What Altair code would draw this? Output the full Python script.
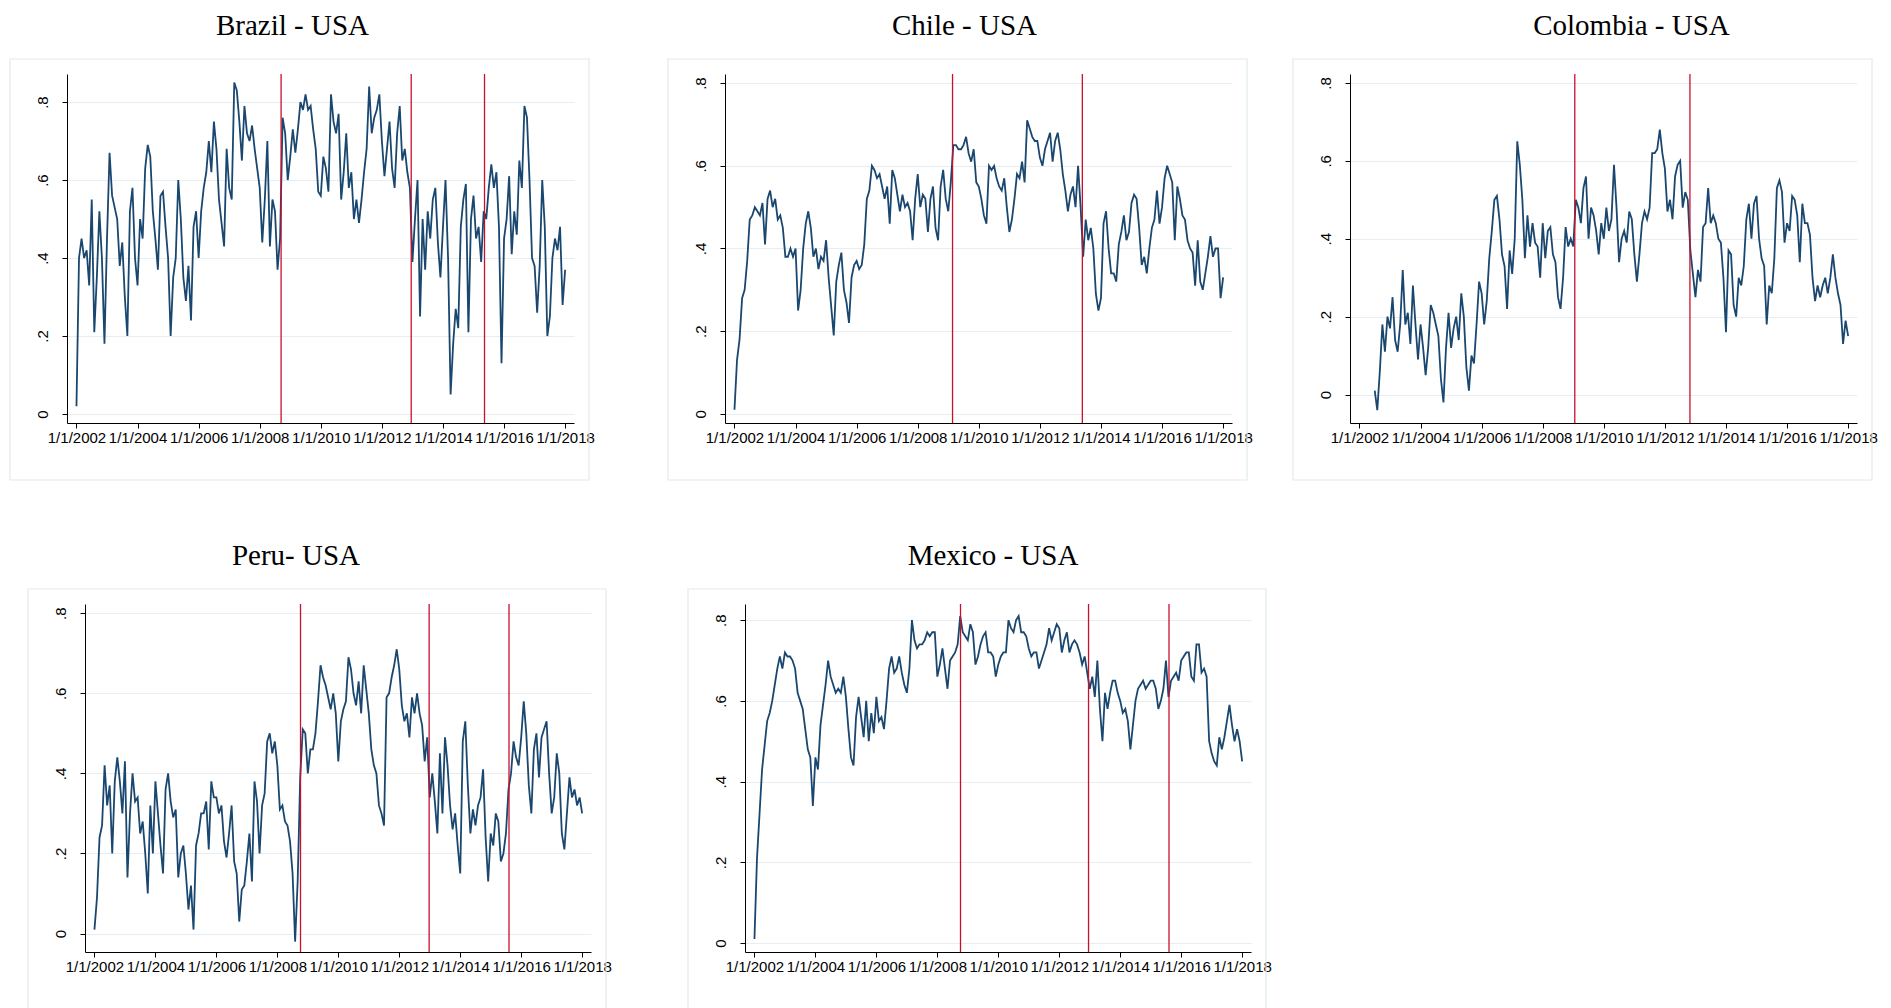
import altair as alt
import pandas as pd

# ---- data: monthly readings (first month given by *_start) ----
brazil_start = (2002, 1)
brazil = [
    0.02, 0.40, 0.45, 0.40, 0.42, 0.33, 0.55, 0.21, 0.35, 0.52, 0.40, 0.18,
    0.45, 0.67, 0.56, 0.53, 0.50, 0.38, 0.44, 0.30, 0.20, 0.52, 0.58, 0.40,
    0.33, 0.50, 0.45, 0.63, 0.69, 0.66, 0.52, 0.45, 0.37, 0.56, 0.57, 0.48,
    0.40, 0.20, 0.35, 0.40, 0.60, 0.50, 0.35, 0.29, 0.38, 0.24, 0.48, 0.52,
    0.40, 0.52, 0.58, 0.62, 0.70, 0.62, 0.75, 0.68, 0.55, 0.49, 0.43, 0.68,
    0.58, 0.55, 0.85, 0.83, 0.75, 0.65, 0.79, 0.72, 0.70, 0.74, 0.68, 0.63,
    0.58, 0.44, 0.55, 0.70, 0.43, 0.55, 0.52, 0.37, 0.45, 0.76, 0.72, 0.60,
    0.66, 0.73, 0.67, 0.73, 0.80, 0.78, 0.82, 0.78, 0.79, 0.73, 0.68, 0.57,
    0.56, 0.66, 0.63, 0.57, 0.82, 0.75, 0.72, 0.77, 0.55, 0.62, 0.72, 0.58,
    0.62, 0.50, 0.55, 0.49, 0.55, 0.62, 0.68, 0.84, 0.72, 0.76, 0.78, 0.82,
    0.70, 0.61, 0.68, 0.75, 0.63, 0.58, 0.72, 0.79, 0.65, 0.68, 0.62, 0.58,
    0.39, 0.50, 0.60, 0.25, 0.50, 0.37, 0.52, 0.45, 0.55, 0.58, 0.44, 0.35,
    0.48, 0.60, 0.40, 0.05, 0.18, 0.27, 0.22, 0.48, 0.55, 0.59, 0.21, 0.50,
    0.56, 0.45, 0.48, 0.39, 0.52, 0.50, 0.58, 0.64, 0.58, 0.62, 0.48, 0.13,
    0.45, 0.50, 0.61, 0.41, 0.52, 0.46, 0.65, 0.58, 0.79, 0.76, 0.60, 0.40,
    0.38, 0.26, 0.38, 0.60, 0.48, 0.20, 0.25, 0.40, 0.45, 0.42, 0.48, 0.28,
    0.37,
]
brazil_breaks = [2008.70, 2012.96, 2015.36]

chile_start = (2002, 1)
chile = [
    0.01, 0.13, 0.18, 0.28, 0.30, 0.37, 0.47, 0.48, 0.50, 0.49, 0.48, 0.51,
    0.41, 0.52, 0.54, 0.50, 0.52, 0.47, 0.48, 0.45, 0.38, 0.38, 0.40, 0.38,
    0.40, 0.25, 0.30, 0.40, 0.46, 0.49, 0.45, 0.38, 0.40, 0.35, 0.38, 0.37,
    0.42, 0.33, 0.26, 0.19, 0.32, 0.36, 0.39, 0.30, 0.27, 0.22, 0.33, 0.36,
    0.37, 0.35, 0.36, 0.41, 0.52, 0.54, 0.60, 0.59, 0.57, 0.58, 0.55, 0.52,
    0.55, 0.46, 0.59, 0.57, 0.53, 0.49, 0.53, 0.50, 0.51, 0.49, 0.42, 0.52,
    0.58, 0.50, 0.53, 0.52, 0.44, 0.52, 0.55, 0.45, 0.42, 0.55, 0.59, 0.52,
    0.49, 0.56, 0.65, 0.65, 0.64, 0.64, 0.65, 0.67, 0.63, 0.61, 0.64, 0.56,
    0.55, 0.52, 0.48, 0.46, 0.60, 0.59, 0.60, 0.57, 0.55, 0.54, 0.57, 0.50,
    0.44, 0.47, 0.52, 0.58, 0.57, 0.61, 0.56, 0.71, 0.69, 0.67, 0.66, 0.66,
    0.62, 0.60, 0.64, 0.66, 0.68, 0.61, 0.66, 0.68, 0.64, 0.58, 0.54, 0.49,
    0.53, 0.55, 0.50, 0.60, 0.50, 0.38, 0.47, 0.42, 0.45, 0.40, 0.29, 0.25,
    0.28, 0.46, 0.49, 0.40, 0.34, 0.34, 0.32, 0.41, 0.44, 0.48, 0.42, 0.44,
    0.51, 0.53, 0.52, 0.45, 0.36, 0.38, 0.34, 0.40, 0.45, 0.47, 0.54, 0.46,
    0.50, 0.57, 0.60, 0.58, 0.56, 0.42, 0.55, 0.52, 0.48, 0.47, 0.42, 0.40,
    0.39, 0.31, 0.42, 0.32, 0.30, 0.34, 0.38, 0.43, 0.38, 0.40, 0.40, 0.28,
    0.33,
]
chile_breaks = [2009.14, 2013.39]

colombia_start = (2002, 7)
colombia = [
    0.01, -0.04, 0.06, 0.18, 0.11, 0.20,
    0.17, 0.25, 0.14, 0.11, 0.18, 0.32, 0.18, 0.21, 0.13, 0.28, 0.18, 0.09,
    0.18, 0.12, 0.05, 0.12, 0.23, 0.21, 0.18, 0.15, 0.04, -0.02, 0.12, 0.21,
    0.12, 0.17, 0.20, 0.14, 0.26, 0.20, 0.07, 0.01, 0.10, 0.08, 0.18, 0.29,
    0.26, 0.18, 0.24, 0.35, 0.42, 0.50, 0.51, 0.45, 0.36, 0.33, 0.22, 0.37,
    0.31, 0.40, 0.65, 0.59, 0.50, 0.35, 0.46, 0.38, 0.44, 0.39, 0.38, 0.30,
    0.44, 0.35, 0.42, 0.43, 0.36, 0.34, 0.25, 0.22, 0.30, 0.43, 0.38, 0.40,
    0.38, 0.50, 0.48, 0.44, 0.53, 0.56, 0.40, 0.48, 0.46, 0.42, 0.36, 0.44,
    0.40, 0.48, 0.42, 0.45, 0.59, 0.48, 0.34, 0.40, 0.42, 0.39, 0.47, 0.45,
    0.36, 0.29, 0.36, 0.44, 0.47, 0.45, 0.48, 0.62, 0.62, 0.63, 0.68, 0.62,
    0.58, 0.47, 0.50, 0.45, 0.56, 0.59, 0.60, 0.48, 0.52, 0.50, 0.37, 0.31,
    0.25, 0.32, 0.29, 0.43, 0.44, 0.53, 0.44, 0.46, 0.44, 0.40, 0.39, 0.30,
    0.16, 0.37, 0.36, 0.23, 0.20, 0.30, 0.28, 0.33, 0.45, 0.49, 0.40, 0.49,
    0.51, 0.40, 0.35, 0.33, 0.18, 0.28, 0.26, 0.35, 0.53, 0.55, 0.52, 0.39,
    0.44, 0.42, 0.51, 0.50, 0.46, 0.34, 0.49, 0.44, 0.44, 0.41, 0.30, 0.24,
    0.28, 0.25, 0.28, 0.30, 0.26, 0.30, 0.36, 0.30, 0.26, 0.23, 0.13, 0.19,
    0.15,
]
colombia_breaks = [2009.05, 2012.82]

peru_start = (2002, 1)
peru = [
    0.01, 0.09, 0.24, 0.27, 0.42, 0.32, 0.37, 0.20, 0.38, 0.44, 0.38, 0.30,
    0.43, 0.14, 0.30, 0.40, 0.33, 0.34, 0.25, 0.28, 0.20, 0.10, 0.32, 0.20,
    0.38, 0.30, 0.22, 0.15, 0.36, 0.40, 0.33, 0.29, 0.31, 0.14, 0.20, 0.22,
    0.15, 0.06, 0.12, 0.01, 0.22, 0.25, 0.30, 0.30, 0.33, 0.21, 0.38, 0.34,
    0.34, 0.30, 0.32, 0.23, 0.19, 0.25, 0.32, 0.18, 0.15, 0.03, 0.11, 0.12,
    0.18, 0.25, 0.13, 0.38, 0.33, 0.20, 0.32, 0.35, 0.48, 0.50, 0.45, 0.48,
    0.42, 0.31, 0.32, 0.28, 0.27, 0.23, 0.15, -0.02, 0.13, 0.39, 0.51, 0.50,
    0.40, 0.46, 0.46, 0.50, 0.58, 0.67, 0.64, 0.62, 0.59, 0.56, 0.60, 0.55,
    0.43, 0.53, 0.56, 0.58, 0.69, 0.66, 0.60, 0.57, 0.63, 0.55, 0.67, 0.61,
    0.55, 0.46, 0.42, 0.40, 0.32, 0.30, 0.27, 0.59, 0.60, 0.64, 0.67, 0.71,
    0.66, 0.57, 0.53, 0.55, 0.49, 0.59, 0.55, 0.60, 0.55, 0.52, 0.43, 0.49,
    0.34, 0.40, 0.33, 0.25, 0.45, 0.30, 0.49, 0.42, 0.32, 0.26, 0.30, 0.22,
    0.15, 0.48, 0.53, 0.37, 0.25, 0.31, 0.27, 0.32, 0.34, 0.41, 0.24, 0.13,
    0.25, 0.22, 0.30, 0.28, 0.18, 0.20, 0.25, 0.36, 0.40, 0.48, 0.44, 0.42,
    0.49, 0.58, 0.50, 0.37, 0.30, 0.46, 0.50, 0.39, 0.49, 0.51, 0.53, 0.40,
    0.30, 0.34, 0.45, 0.40, 0.25, 0.21, 0.30, 0.39, 0.34, 0.36, 0.32, 0.34,
    0.30,
]
peru_breaks = [2008.76, 2012.98, 2015.60]

mexico_start = (2002, 1)
mexico = [
    0.01, 0.21, 0.32, 0.43, 0.49, 0.55, 0.57, 0.60, 0.64, 0.68, 0.71, 0.68,
    0.72, 0.71, 0.71, 0.70, 0.68, 0.62, 0.60, 0.58, 0.53, 0.48, 0.46, 0.34,
    0.46, 0.43, 0.54, 0.59, 0.64, 0.70, 0.66, 0.64, 0.62, 0.63, 0.62, 0.66,
    0.61, 0.53, 0.46, 0.44, 0.56, 0.61, 0.56, 0.51, 0.60, 0.50, 0.57, 0.52,
    0.61, 0.55, 0.56, 0.53, 0.60, 0.68, 0.71, 0.67, 0.68, 0.71, 0.67, 0.64,
    0.62, 0.68, 0.80, 0.75, 0.73, 0.74, 0.74, 0.75, 0.77, 0.76, 0.77, 0.77,
    0.66, 0.69, 0.73, 0.68, 0.63, 0.70, 0.71, 0.72, 0.74, 0.81, 0.77, 0.76,
    0.75, 0.79, 0.77, 0.69, 0.71, 0.74, 0.76, 0.77, 0.72, 0.72, 0.71, 0.66,
    0.69, 0.71, 0.72, 0.72, 0.80, 0.78, 0.77, 0.80, 0.81, 0.77, 0.77, 0.76,
    0.73, 0.71, 0.72, 0.72, 0.68, 0.70, 0.72, 0.74, 0.78, 0.75, 0.77, 0.79,
    0.78, 0.72, 0.75, 0.77, 0.72, 0.74, 0.75, 0.74, 0.72, 0.69, 0.71, 0.67,
    0.63, 0.66, 0.61, 0.70, 0.58, 0.50, 0.62, 0.58, 0.62, 0.65, 0.65, 0.62,
    0.60, 0.57, 0.58, 0.55, 0.48, 0.54, 0.60, 0.63, 0.64, 0.65, 0.63, 0.64,
    0.65, 0.65, 0.63, 0.58, 0.60, 0.63, 0.70, 0.61, 0.65, 0.66, 0.67, 0.65,
    0.70, 0.71, 0.72, 0.72, 0.66, 0.65, 0.74, 0.74, 0.67, 0.68, 0.66, 0.50,
    0.47, 0.45, 0.44, 0.51, 0.48, 0.51, 0.55, 0.59, 0.54, 0.50, 0.53, 0.50,
    0.45,
]
mexico_breaks = [2008.76, 2012.96, 2015.60]

x_ticks = [2002, 2004, 2006, 2008, 2010, 2012, 2014, 2016, 2018]
y_ticks = [0, 0.2, 0.4, 0.6, 0.8]

NAVY = "#1a476f"
RED = "#c8102e"
BOX = "#e2eaee"
GRID = "#e6eef1"
X_DOMAIN = [2001.69, 2018.29]
LABEL_FONT = "Liberation Sans"
LABEL_SIZE = 15


def decimal_years(start, n):
    y0, m0 = start
    return [y0 + (m0 - 1 + i) / 12 for i in range(n)]


def panel(title, values, start, breaks, ydom, w, h, dx):
    df = pd.DataFrame({"t": decimal_years(start, len(values)), "v": values})
    bdf = pd.DataFrame({"t": breaks})
    xscale = alt.Scale(domain=X_DOMAIN, nice=False, zero=False)
    x = alt.X(
        "t:Q",
        scale=xscale,
        axis=alt.Axis(
            values=x_ticks,
            labelExpr="'1/1/' + datum.value",
            grid=False,
            title=None,
            tickSize=5,
            labelPadding=2,
            labelFlush=False,
            labelOverlap=False,
            labelFont=LABEL_FONT,
            labelFontSize=LABEL_SIZE,
            labelColor="black",
            domainColor="black",
            tickColor="black",
        ),
    )
    y = alt.Y(
        "v:Q",
        scale=alt.Scale(domain=ydom, nice=False, zero=False),
        axis=alt.Axis(
            values=y_ticks,
            labelExpr="datum.value == 0 ? '0' : replace(format(datum.value, '.1f'), '0.', '.')",
            labelAngle=270,
            labelAlign="center",
            labelBaseline="bottom",
            labelPadding=12,
            grid=True,
            gridColor=GRID,
            title=None,
            tickSize=5,
            labelFont=LABEL_FONT,
            labelFontSize=LABEL_SIZE,
            labelColor="black",
            domainColor="black",
            tickColor="black",
        ),
    )
    frame_df = pd.DataFrame({"a": [0]})
    box = alt.Chart(frame_df).mark_rect(
        fill="white", fillOpacity=0, stroke=BOX, strokeWidth=1.2
    ).encode(
        x=alt.value(-57), x2=alt.value(w + 15),
        y=alt.value(-15), y2=alt.value(h + 57),
    )
    line = alt.Chart(df).mark_line(color=NAVY, strokeWidth=1.8).encode(x=x, y=y)
    rules = alt.Chart(bdf).mark_rule(color=RED, strokeWidth=1.3).encode(x=x)
    return alt.layer(box, line, rules).properties(
        width=w,
        height=h,
        title=alt.TitleParams(
            text=title,
            font="Liberation Serif",
            fontSize=29,
            fontWeight="normal",
            color="black",
            anchor="middle",
            frame="group",
            baseline="alphabetic",
            dx=dx,
            dy=28,
            offset=22,
        ),
    )


def gutter():
    # invisible narrow cell used only to indent a row of panels
    return alt.Chart(pd.DataFrame({"a": [0]})).mark_rule(strokeOpacity=0).encode(
        x=alt.value(0), x2=alt.value(1), y=alt.value(0)
    ).properties(width=1, height=1)


p_brazil = panel("Brazil - USA", brazil, brazil_start, brazil_breaks, [-0.023, 0.872], 507, 349, -28)
p_chile = panel("Chile - USA", chile, chile_start, chile_breaks, [-0.022, 0.822], 507, 349, -14)
p_colombia = panel("Colombia - USA", colombia, colombia_start, colombia_breaks, [-0.073, 0.823], 507, 349, 28)
p_peru = panel("Peru- USA", peru, peru_start, peru_breaks, [-0.046, 0.823], 506, 348, -42)
p_mexico = panel("Mexico - USA", mexico, mexico_start, mexico_breaks, [-0.022, 0.84], 506, 348, -5)

top = alt.hconcat(
    gutter(),
    alt.hconcat(p_brazil, alt.hconcat(p_chile, p_colombia, spacing=39), spacing=72),
    spacing=0,
)
bottom = alt.hconcat(gutter(), alt.hconcat(p_peru, p_mexico, spacing=75), spacing=18)

chart = (
    alt.concat(top, bottom, columns=1, spacing=61, align="none")
    .properties(padding={"left": 0, "top": 4, "right": 0, "bottom": 0}, background="white")
    .configure_view(strokeOpacity=0)
)

chart.save("out.html", embed_options={"renderer": "svg", "actions": False})
